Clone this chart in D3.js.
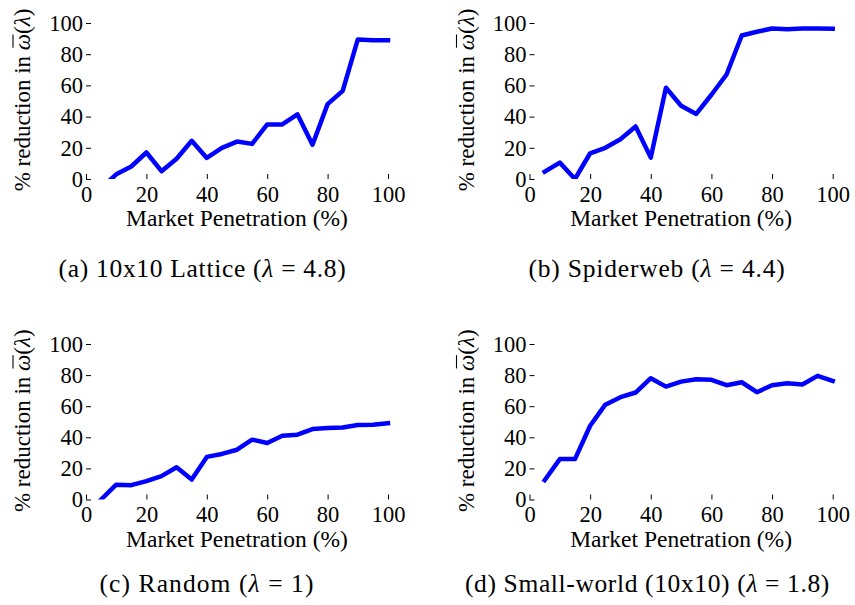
<!DOCTYPE html>
<html>
<head>
<meta charset="utf-8">
<script src="https://cdn.jsdelivr.net/npm/d3@7"></script>
<style>
  body { margin: 0; background: #fff; }
  svg { display: block; }
  text { font-family: "Liberation Serif", "Times New Roman", serif; fill: #000; }
</style>
</head>
<body>
<svg id="fig" width="855" height="605"></svg>
<script>
// Market penetration levels (%) at which each network was simulated
const penetration = [5, 10, 15, 20, 25, 30, 35, 40, 45, 50, 55, 60, 65, 70, 75, 80, 85, 90, 95, 100];

// % reduction in mean omega(lambda), one series per network topology
const latticeReduction   = [-6, 3, 8, 17, 5, 13, 24.5, 13.5, 20, 24, 22.5, 35, 35, 41.5, 22, 48, 56.5, 89.5, 89, 89];
const spiderwebReduction = [4.7, 10.5, 0, 16.5, 20, 25.5, 33.7, 13.7, 58.5, 47, 41.7, 54, 67, 92, 94.4, 96.5, 96, 96.5, 96.5, 96.4];
const randomReduction    = [0, 9.5, 9.2, 11.8, 15, 20.7, 12.8, 27.4, 29.3, 32, 38.5, 36.3, 41, 41.7, 45.3, 46, 46.3, 47.9, 48, 49];
const smallWorldReduction = [12.4, 26, 26, 47.4, 61, 65.8, 68.8, 78, 72.6, 75.8, 77.3, 77, 73.5, 75.4, 69, 73.5, 74.7, 74, 79.5, 76.3];

const xTicks = [0, 20, 40, 60, 80, 100];
const yTicks = [0, 20, 40, 60, 80, 100];

const captionNames  = ["(a) 10x10 Lattice", "(b) Spiderweb", "(c) Random", "(d) Small-world (10x10)"];
const captionLambda = ["4.8", "4.4", "1", "1.8"];

const series = [latticeReduction, spiderwebReduction, randomReduction, smallWorldReduction];

// Panel geometry: plot box and caption placement
const layout = [
  { x0: 86,    x1: 388,   yTop: 23,  yBot: 179,   capX: 202.5, capY: 277, capW: 288 },
  { x0: 529.5, x1: 832.7, yTop: 23,  yBot: 179,   capX: 657,   capY: 277, capW: 257 },
  { x0: 86,    x1: 388,   yTop: 344, yBot: 499.5, capX: 207,   capY: 592, capW: 215 },
  { x0: 529.5, x1: 832.7, yTop: 344, yBot: 499.5, capX: 647.5, capY: 592, capW: 365 }
];

const svg = d3.select("#fig");
const defs = svg.append("defs");

layout.forEach((L, i) => {
  const x = d3.scaleLinear().domain([0, 100]).range([L.x0, L.x1]);
  const y = d3.scaleLinear().domain([0, 100]).range([L.yBot, L.yTop]);

  const g = svg.append("g");

  // y axis: inward ticks, no spine
  const ya = g.append("g")
    .attr("transform", `translate(${L.x0},0)`)
    .call(d3.axisLeft(y).tickValues(yTicks).tickSize(-5).tickPadding(3).tickFormat(d3.format("d")));
  ya.select(".domain").remove();

  // x axis: inward ticks, no spine
  const xa = g.append("g")
    .attr("transform", `translate(0,${L.yBot})`)
    .call(d3.axisBottom(x).tickValues(xTicks).tickSize(-5).tickPadding(7).tickFormat(d3.format("d")));
  xa.select(".domain").remove();

  g.selectAll(".tick line").attr("stroke", "#000").attr("stroke-width", 1);
  g.selectAll(".tick text")
    .style("font-family", '"Liberation Serif", "Times New Roman", serif')
    .style("font-size", "22.5px")
    .attr("fill", "#000");

  // data line, clipped to the plot box
  const clipId = "clip" + i;
  defs.append("clipPath").attr("id", clipId)
    .append("rect")
    .attr("x", L.x0 - 10).attr("y", L.yTop - 10)
    .attr("width", L.x1 - L.x0 + 20).attr("height", L.yBot - L.yTop + 10);

  const line = d3.line()
    .x((d, k) => x(penetration[k]))
    .y(d => y(d));

  g.append("path")
    .datum(series[i])
    .attr("clip-path", `url(#${clipId})`)
    .attr("d", line)
    .attr("fill", "none")
    .attr("stroke", "#0000ff")
    .attr("stroke-width", 4.5)
    .attr("stroke-linejoin", "round")
    .attr("stroke-linecap", "square");

  // x axis title
  g.append("text")
    .attr("x", (L.x0 + L.x1) / 2)
    .attr("y", L.yBot + 47)
    .attr("text-anchor", "middle")
    .style("font-size", "23.5px")
    .text("Market Penetration (%)");

  // y axis title, rotated, with a bar drawn over the omega
  const yg = g.append("g")
    .attr("transform", `translate(${L.x0 - 56},${(L.yTop + L.yBot) / 2 - 1}) rotate(-90)`);
  const yl = yg.append("text")
    .attr("text-anchor", "middle")
    .style("font-size", "23px");
  const prefix = "% reduction in ";
  yl.append("tspan").text(prefix);
  yl.append("tspan").style("font-style", "italic").text("\u03C9");
  yl.append("tspan").text("(");
  yl.append("tspan").style("font-style", "italic").text("\u03BB");
  yl.append("tspan").text(")");
  const om = yl.node().getExtentOfChar(prefix.length);
  yg.append("line")
    .attr("x1", om.x + 2.5).attr("x2", om.x + om.width - 0.5)
    .attr("y1", -17).attr("y2", -17)
    .attr("stroke", "#000").attr("stroke-width", 1.1);

  // sub-figure caption
  const cap = svg.append("text")
    .attr("x", L.capX)
    .attr("y", L.capY)
    .attr("text-anchor", "middle")
    .style("font-size", "25.5px")
    .attr("fill", "#111");
  cap.append("tspan").text(captionNames[i] + " (");
  cap.append("tspan").style("font-style", "italic").text("\u03BB");
  cap.append("tspan").text(" = " + captionLambda[i] + ")");
  const n = cap.text().length;
  const w = cap.node().getComputedTextLength();
  cap.style("letter-spacing", ((L.capW - w) / n) + "px");
});
</script>
</body>
</html>
